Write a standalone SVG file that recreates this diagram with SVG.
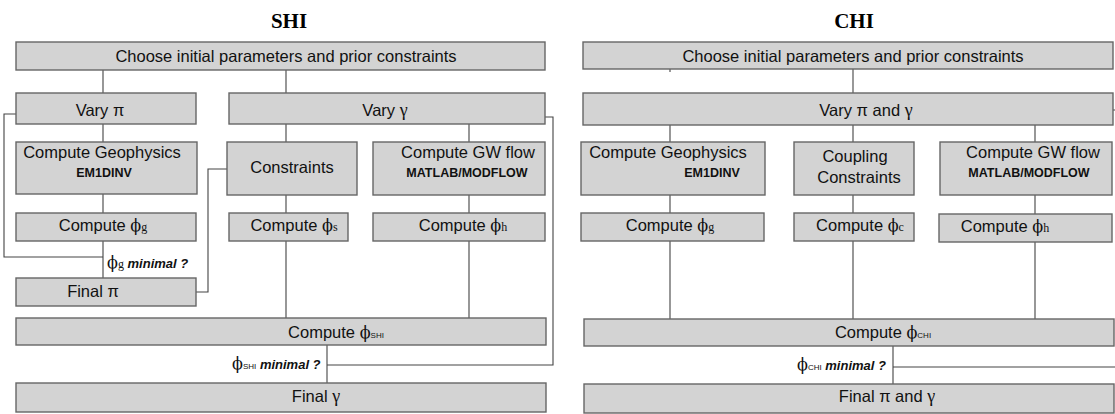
<svg xmlns="http://www.w3.org/2000/svg" width="1115" height="414" viewBox="0 0 1115 414">
  <style>
    .box { fill: #d3d3d3; stroke: #666; stroke-width: 1.4; }
    .ln { fill: none; stroke: #444; stroke-width: 1.1; }
    .ttl { font-family: "Liberation Serif", "Times New Roman", serif; font-weight: bold; font-size: 21px; fill: #000; text-anchor: middle; }
    .t { font-family: "Liberation Sans", Arial, sans-serif; font-size: 16.5px; fill: #111; text-anchor: middle; }
    .b { font-family: "Liberation Sans", Arial, sans-serif; font-weight: bold; font-size: 12.5px; fill: #111; text-anchor: middle; }
    .ph { font-family: "DejaVu Serif", "Liberation Serif", serif; font-size: 16px; }
    .gk { font-family: "Liberation Serif", "Times New Roman", serif; font-size: 18px; }
    .sub { font-family: "Liberation Serif", "Times New Roman", serif; font-size: 12px; }
    .subs { font-family: "Liberation Sans", Arial, sans-serif; font-size: 8px; }
    .q { font-family: "Liberation Sans", Arial, sans-serif; font-size: 13px; fill: #111; }
    .qi { font-weight: bold; font-style: italic; }
  </style>

  <!-- panel titles -->
  <text class="ttl" x="289" y="28">SHI</text>
  <text class="ttl" x="854" y="28">CHI</text>

  <!-- connectors -->
  <g id="connectors">
    <!-- SHI -->
    <path class="ln" d="M103 70 V93 M286 70 V93"/>
    <path class="ln" d="M103 124 V142 M103 194 V213 M103 241 V278"/>
    <path class="ln" d="M16 114 H4 V257 H103"/>
    <path class="ln" d="M286 124 V142 M286 195 V213 M286 241 V318"/>
    <path class="ln" d="M469 124 V142 M469 195 V213 M469 241 V318"/>
    <path class="ln" d="M196 292 H208 V169 H227"/>
    <path class="ln" d="M545 117 H553 V365 H327"/>
    <path class="ln" d="M327 345 V383"/>
    <!-- CHI -->
    <path class="ln" d="M670 69 V72"/>
    <path class="ln" d="M853 69 V93"/>
    <path class="ln" d="M1113 110 H1115"/>
    <path class="ln" d="M670 125 V142 M670 195 V213 M670 241 V319"/>
    <path class="ln" d="M853 125 V142 M853 195 V213 M853 241 V319"/>
    <path class="ln" d="M1035 125 V142 M1035 195 V214 M1035 242 V319"/>
    <path class="ln" d="M893 346 V384 M893 367 H1115"/>
  </g>

  <!-- SHI nodes -->
  <g id="shi-init"><rect class="box" x="16" y="42" width="529" height="28"/><text class="t" x="286" y="62">Choose initial parameters and prior constraints</text></g>
  <g id="shi-vary-pi"><rect class="box" x="16" y="93" width="180" height="31"/><text class="t" x="100" y="116">Vary π</text></g>
  <g id="shi-vary-gamma"><rect class="box" x="229" y="93" width="316" height="31"/><text class="t" x="385" y="116">Vary <tspan class="gk">γ</tspan></text></g>
  <g id="shi-geo"><rect class="box" x="16" y="142" width="181" height="52"/><text class="t" x="102" y="158">Compute Geophysics</text><text class="b" x="104" y="177">EM1DINV</text></g>
  <g id="shi-constraints"><rect class="box" x="227" y="142" width="130" height="53"/><text class="t" x="292" y="173">Constraints</text></g>
  <g id="shi-gw"><rect class="box" x="373" y="142" width="172" height="53"/><text class="t" x="468" y="158">Compute GW flow</text><text class="b" x="467" y="177">MATLAB/MODFLOW</text></g>
  <g id="shi-phi-g"><rect class="box" x="16" y="213" width="180" height="28"/><text class="t" x="103" y="231">Compute <tspan class="ph">ϕ</tspan><tspan class="sub">g</tspan></text></g>
  <g id="shi-phi-s"><rect class="box" x="229" y="213" width="119" height="28"/><text class="t" x="294" y="231">Compute <tspan class="ph">ϕ</tspan><tspan class="sub">s</tspan></text></g>
  <g id="shi-phi-h"><rect class="box" x="373" y="213" width="172" height="28"/><text class="t" x="463" y="231">Compute <tspan class="ph">ϕ</tspan><tspan class="sub">h</tspan></text></g>
  <g id="shi-test-g"><text class="q" x="107" y="268"><tspan class="ph">ϕ</tspan><tspan class="sub">g</tspan> <tspan class="qi">minimal ?</tspan></text></g>
  <g id="shi-final-pi"><rect class="box" x="16" y="278" width="180" height="28"/><text class="t" x="93" y="297">Final π</text></g>
  <g id="shi-phi-total"><rect class="box" x="16" y="318" width="530" height="27"/><text class="t" x="336" y="338">Compute <tspan class="ph">ϕ</tspan><tspan class="subs">SHI</tspan></text></g>
  <g id="shi-test-total"><text class="q" x="232" y="369"><tspan class="ph">ϕ</tspan><tspan class="subs">SHI</tspan>  <tspan class="qi">minimal ?</tspan></text></g>
  <g id="shi-final-gamma"><rect class="box" x="16" y="383" width="530" height="29"/><text class="t" x="316" y="402">Final <tspan class="gk">γ</tspan></text></g>

  <!-- CHI nodes -->
  <g id="chi-init"><rect class="box" x="583" y="42" width="530" height="27"/><text class="t" x="853" y="62">Choose initial parameters and prior constraints</text></g>
  <g id="chi-vary"><rect class="box" x="583" y="93" width="530" height="32"/><text class="t" x="866" y="116">Vary π and <tspan class="gk">γ</tspan></text></g>
  <g id="chi-geo"><rect class="box" x="581" y="142" width="184" height="53"/><text class="t" x="668" y="158">Compute Geophysics</text><text class="b" x="712" y="177">EM1DINV</text></g>
  <g id="chi-coupling"><rect class="box" x="794" y="142" width="120" height="53"/><text class="t" x="855" y="162">Coupling</text><text class="t" x="859" y="183">Constraints</text></g>
  <g id="chi-gw"><rect class="box" x="940" y="142" width="172" height="53"/><text class="t" x="1033" y="158">Compute GW flow</text><text class="b" x="1029" y="177">MATLAB/MODFLOW</text></g>
  <g id="chi-phi-g"><rect class="box" x="581" y="213" width="183" height="28"/><text class="t" x="670" y="231">Compute <tspan class="ph">ϕ</tspan><tspan class="sub">g</tspan></text></g>
  <g id="chi-phi-c"><rect class="box" x="794" y="213" width="120" height="28"/><text class="t" x="860" y="231">Compute <tspan class="ph">ϕ</tspan><tspan class="sub">c</tspan></text></g>
  <g id="chi-phi-h"><rect class="box" x="939" y="214" width="173" height="28"/><text class="t" x="1005" y="232">Compute <tspan class="ph">ϕ</tspan><tspan class="sub">h</tspan></text></g>
  <g id="chi-phi-total"><rect class="box" x="584" y="319" width="530" height="27"/><text class="t" x="883" y="338">Compute <tspan class="ph">ϕ</tspan><tspan class="subs">CHI</tspan></text></g>
  <g id="chi-test-total"><text class="q" x="797" y="370"><tspan class="ph">ϕ</tspan><tspan class="subs">CHI</tspan>  <tspan class="qi">minimal ?</tspan></text></g>
  <g id="chi-final"><rect class="box" x="584" y="384" width="530" height="29"/><text class="t" x="887" y="402">Final π and <tspan class="gk">γ</tspan></text></g>
</svg>
